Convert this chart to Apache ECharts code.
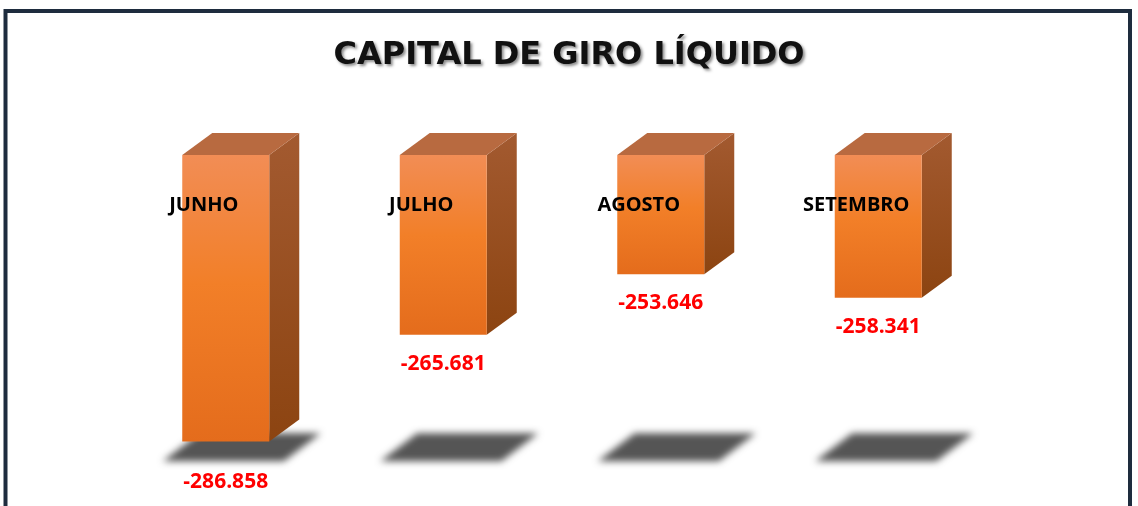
<!DOCTYPE html>
<html>
<head>
<meta charset="utf-8">
<script src="https://cdn.jsdelivr.net/npm/echarts@6/dist/echarts.min.js"></script>
<style>
  html, body { margin: 0; padding: 0; background: #fff; }
  #chart { width: 1138px; height: 506px; }
</style>
</head>
<body>
<div id="chart"></div>
<script>
(function() {
  // data
  var months = ['JUNHO', 'JULHO', 'AGOSTO', 'SETEMBRO'];
  var values = [-286.858, -265.681, -253.646, -258.341];
  var axisMin = -290;
  var axisMax = -230;
  var floorValue = -288;

  var depthX = 30, depthY = -22;

  function fmt(v) {
    return v.toFixed(3);
  }

  var chart = echarts.init(document.getElementById('chart'), null, { renderer: 'canvas' });

  chart.setOption({
    animation: false,
    backgroundColor: '#ffffff',
    title: {
      text: 'CAPITAL DE GIRO LÍQUIDO',
      left: 'center',
      top: 35,
      textStyle: {
        fontFamily: 'DejaVu Sans',
        fontWeight: 'bold',
        fontSize: 32,
        color: '#111111',
        textShadowColor: 'rgba(0,0,0,0.45)',
        textShadowBlur: 3,
        textShadowOffsetX: 2,
        textShadowOffsetY: 2
      }
    },
    graphic: [{
      type: 'rect',
      z: 100,
      shape: { x: 5.5, y: 11, width: 1124.5, height: 540 },
      style: { fill: 'none', stroke: '#1e2c3e', lineWidth: 4 }
    }],
    grid: { top: 155, left: 117, right: 151, bottom: 48.6 },
    xAxis: {
      type: 'category',
      data: months,
      show: false
    },
    yAxis: {
      type: 'value',
      min: axisMin,
      max: axisMax,
      show: false
    },
    series: [{
      type: 'custom',
      data: values.map(function(v, i) { return [i, v]; }),
      clip: false,
      renderItem: function(params, api) {
        var i = api.value(0);
        var v = api.value(1);
        var top = api.coord([i, axisMax]);
        var bot = api.coord([i, v]);
        var floor = api.coord([i, floorValue]);
        var bw = api.size([1, 0])[0] * 0.4;
        var cx = top[0];
        var x0 = cx - bw / 2, x1 = cx + bw / 2;
        var y0 = top[1], y1 = bot[1];
        var fy = floor[1];

        // value label goes below the bar, or below the floor shadow if it would hit it
        var labelY = y1 + 29;
        if (labelY > fy - 14) labelY = fy + 35;

        var off = 3000;
        return {
          type: 'group',
          children: [
            {
              // floor shadow: shape drawn off-screen, only its blurred shadow shows
              type: 'polygon',
              shape: { points: [[cx - 63 - off, fy + 14], [cx + 58 - off, fy + 14], [cx + 95 - off, fy - 14], [cx - 26 - off, fy - 14]] },
              style: {
                fill: '#555555',
                shadowColor: '#555555',
                shadowBlur: 7,
                shadowOffsetX: off,
                shadowOffsetY: 0
              }
            },
            {
              type: 'polygon',
              shape: { points: [[x1, y0], [x1 + depthX, y0 + depthY], [x1 + depthX, y1 + depthY], [x1, y1]] },
              style: {
                fill: new echarts.graphic.LinearGradient(0, 0, 0, 1, [
                  { offset: 0, color: '#a35a30' },
                  { offset: 1, color: '#8c4411' }
                ])
              }
            },
            {
              type: 'polygon',
              shape: { points: [[x0, y0], [x0 + depthX, y0 + depthY], [x1 + depthX, y0 + depthY], [x1, y0]] },
              style: { fill: '#b86a40' }
            },
            {
              type: 'rect',
              shape: { x: x0, y: y0, width: bw, height: y1 - y0 },
              style: {
                fill: new echarts.graphic.LinearGradient(0, 0, 0, 1, [
                  { offset: 0, color: '#f28d55' },
                  { offset: 0.45, color: '#f27f28' },
                  { offset: 1, color: '#e46c1c' }
                ])
              }
            },
            {
              type: 'text',
              style: {
                text: months[i],
                x: cx - 22,
                y: y0 + 50,
                align: 'center',
                verticalAlign: 'middle',
                fontFamily: 'Open Sans',
                fontWeight: 'bold',
                fontSize: 20,
                fill: '#000000'
              }
            },
            {
              type: 'text',
              style: {
                text: fmt(v),
                x: cx,
                y: labelY,
                align: 'center',
                verticalAlign: 'middle',
                fontFamily: 'Open Sans',
                fontWeight: 'bold',
                fontSize: 21,
                fill: '#ff0000'
              }
            }
          ]
        };
      }
    }]
  });
  window.addEventListener('resize', function() { chart.resize(); });
})();
</script>
</body>
</html>
